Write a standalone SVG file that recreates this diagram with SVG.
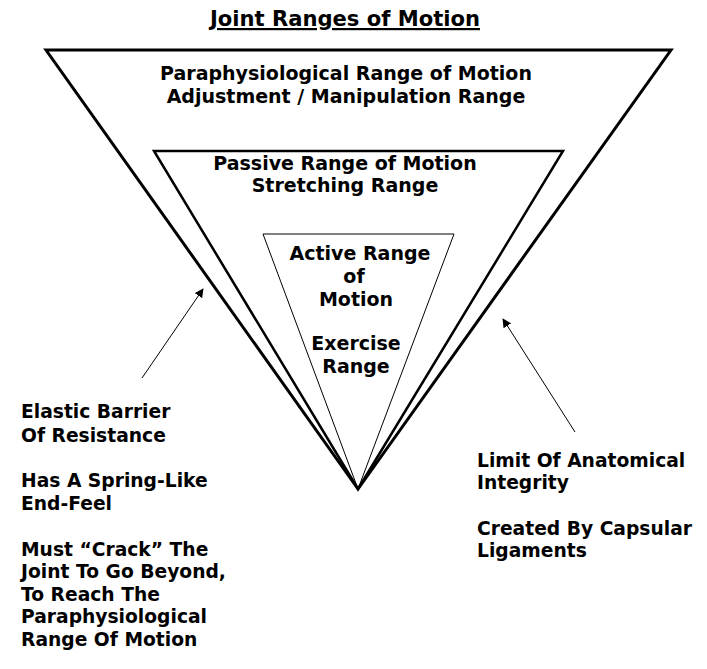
<svg xmlns="http://www.w3.org/2000/svg" width="707" height="669" viewBox="0 0 707 669">
<defs>
<marker id="ah" viewBox="0 0 10 10" refX="9" refY="5" markerWidth="9" markerHeight="9" markerUnits="userSpaceOnUse" orient="auto">
<path d="M0,0 L10,5 L0,10 z" fill="#000"/>
</marker>
</defs>
<style>
text{font-family:"DejaVu Sans","Verdana",sans-serif;font-weight:bold;font-size:19px;fill:#000}
.c{text-anchor:middle}
.n{font-size:18.7px}
.title{font-family:"DejaVu Sans Condensed","DejaVu Sans",sans-serif;font-size:22px;text-decoration:underline}
.tri{fill:none;stroke:#000;stroke-linejoin:miter}
.conn{stroke:#000;stroke-width:1;fill:none}
</style>
<rect width="707" height="669" fill="#fff"/>
<text class="title c" x="345" y="26" textLength="270" lengthAdjust="spacingAndGlyphs">Joint Ranges of Motion</text>
<g id="outer">
<polygon class="tri" stroke-width="3" points="46,50 671,50 358,489"/>
<text class="c" x="346" y="80">Paraphysiological Range of Motion</text>
<text class="c" x="346" y="103">Adjustment / Manipulation Range</text>
</g>
<g id="middle">
<polygon class="tri" stroke-width="2.5" points="154,151 563,151 358,489"/>
<text class="c" x="345" y="170">Passive Range of Motion</text>
<text class="c" x="345" y="192">Stretching Range</text>
</g>
<g id="inner">
<polygon class="tri" stroke-width="1" points="263,234 454,234 358,489"/>
<text class="c" x="360" y="260">Active Range</text>
<text class="c" x="354" y="283">of</text>
<text class="c" x="356" y="306">Motion</text>
<text class="c" x="356" y="350">Exercise</text>
<text class="c" x="356" y="373">Range</text>
</g>
<g id="left-note">
<text class="n" x="21" y="418">Elastic Barrier</text>
<text class="n" x="21" y="442">Of Resistance</text>
<text class="n" x="21" y="487">Has A Spring-Like</text>
<text class="n" x="21" y="510">End-Feel</text>
<text class="n" x="21" y="556">Must “Crack” The</text>
<text class="n" x="21" y="578">Joint To Go Beyond,</text>
<text class="n" x="21" y="601">To Reach The</text>
<text class="n" x="21" y="623">Paraphysiological</text>
<text class="n" x="21" y="646">Range Of Motion</text>
</g>
<g id="right-note">
<text class="n" x="477" y="467">Limit Of Anatomical</text>
<text class="n" x="477" y="489">Integrity</text>
<text class="n" x="477" y="535">Created By Capsular</text>
<text class="n" x="477" y="557">Ligaments</text>
</g>
<g id="connectors">
<line class="conn" x1="142" y1="378" x2="203" y2="289" marker-end="url(#ah)"/>
<line class="conn" x1="575" y1="432" x2="503" y2="319" marker-end="url(#ah)"/>
</g>
</svg>
